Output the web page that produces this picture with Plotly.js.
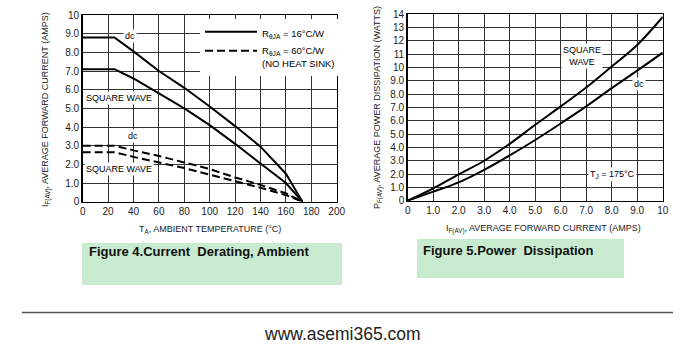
<!DOCTYPE html>
<html><head><meta charset="utf-8">
<script src="https://cdn.plot.ly/plotly-3.0.1.min.js"></script>
<style>body{margin:0;background:#fff}#c{width:700px;height:356px}</style>
</head><body><div id="c"></div>
<script>
// Figure 4 data: ambient temperature (°C) vs average forward current (A)
const tempA = [0, 25, 40, 60, 80, 100, 120, 140, 160, 173];
const dcHeatSink = [8.8, 8.8, 8.05, 7.0, 6.1, 5.1, 4.05, 2.95, 1.5, 0];
const sqHeatSink = [7.1, 7.1, 6.6, 5.8, 5.0, 4.1, 3.1, 2.05, 1.0, 0];
const dcNoSink = [3.0, 3.0, 2.75, 2.45, 2.1, 1.75, 1.3, 0.9, 0.45, 0];
const sqNoSink = [2.65, 2.65, 2.4, 2.1, 1.8, 1.45, 1.1, 0.75, 0.35, 0];
// Figure 5 data: average forward current (A) vs power dissipation (W)
const currentF = [0, 1, 2, 3, 4, 5, 6, 7, 8, 9, 10];
const pSquare = [0, 0.92, 1.98, 3.0, 4.27, 5.7, 7.08, 8.5, 10.08, 11.7, 13.8];
const pDc = [0, 0.68, 1.38, 2.32, 3.4, 4.56, 5.8, 7.08, 8.45, 9.77, 11.12];
// tick labels
const xTicks4 = [0, 20, 40, 60, 80, 100, 120, 140, 160, 180, 200];
const yTicks4 = [0,1,2,3,4,5,6,7,8,9,10];
const yText4 = ["0","1.0","2.0","3.0","4.0","5.0","6.0","7.0","8.0","9.0","10"];
const xTicks5 = [0,1,2,3,4,5,6,7,8,9,10];
const xText5 = ["0","1.0","2.0","3.0","4.0","5.0","6.0","7.0","8.0","9.0","10"];
const yTicks5 = [0,1,2,3,4,5,6,7,8,9,10,11,12,13,14];
const yText5 = ["0","1.0","2.0","3.0","4.0","5.0","6.0","7.0","8.0","9.0","10","11","12","13","14"];

const F = "Liberation Sans, Arial, sans-serif";
const W = 700, H = 356;
const px = v => v / W, py = v => (H - v) / H;

const traces = [
  {x: tempA, y: dcHeatSink, xaxis:'x', yaxis:'y', mode:'lines', line:{color:'#000', width:2}, name:'R<sub>θJA</sub> = 16°C/W', legendgroup:'a'},
  {x: tempA, y: sqHeatSink, xaxis:'x', yaxis:'y', mode:'lines', line:{color:'#000', width:2}, showlegend:false, legendgroup:'a'},
  {x: tempA, y: dcNoSink, xaxis:'x', yaxis:'y', mode:'lines', line:{color:'#000', width:2, dash:'8px,4px'}, name:'R<sub>θJA</sub> = 60°C/W<br>(NO HEAT SINK)', legendgroup:'b'},
  {x: tempA, y: sqNoSink, xaxis:'x', yaxis:'y', mode:'lines', line:{color:'#000', width:2, dash:'8px,4px'}, showlegend:false, legendgroup:'b'},
  {x: currentF, y: pSquare, xaxis:'x2', yaxis:'y2', mode:'lines', line:{color:'#000', width:2, shape:'spline'}, showlegend:false},
  {x: currentF, y: pDc, xaxis:'x2', yaxis:'y2', mode:'lines', line:{color:'#000', width:2, shape:'spline'}, showlegend:false}
];

const axCommon = {showline:true, linecolor:'#000', linewidth:1.5, mirror:true, showgrid:true, gridcolor:'#333', gridwidth:1, zeroline:false, ticks:'', tickfont:{family:F, size:10, color:'#222'}, fixedrange:true};

const ann = [];
const lf = {family:F, size:9, color:'#000'};
function lab(text, x, y, xr, yr, extra) {
  ann.push(Object.assign({text, x, y, xref:xr, yref:yr, xanchor:'center', yanchor:'middle', showarrow:false, bgcolor:'#fff', font:lf, borderpad:1}, extra||{}));
}
lab('dc', 37, 8.9, 'x', 'y');
lab('SQUARE WAVE', 28.6, 5.55, 'x', 'y');
lab('dc', 39.7, 3.52, 'x', 'y');
lab('SQUARE WAVE', 28.6, 1.75, 'x', 'y');
lab('SQUARE<br>WAVE', 6.84, 10.87, 'x2', 'y2');
lab('dc', 9.07, 8.77, 'x2', 'y2');
lab('T<sub>J</sub> = 175°C', 8.05, 2.0, 'x2', 'y2');
// axis titles and page texts (paper coords)
function ptxt(text, x, y, font, extra) {
  ann.push(Object.assign({text, x:px(x), y:py(y), xref:'paper', yref:'paper', xanchor:'center', yanchor:'middle', showarrow:false, font}, extra||{}));
}
const tf = {family:F, size:9, color:'#222'};
ptxt('I<sub>F(AV)</sub>, AVERAGE FORWARD CURRENT (AMPS)', 46, 110, tf, {textangle:-90});
ptxt('T<sub>A</sub>, AMBIENT TEMPERATURE (°C)', 210, 229, tf);
ptxt('P<sub>F(AV)</sub>, AVERAGE POWER DISSIPATION (WATTS)', 378, 108, tf, {textangle:-90});
ptxt('I<sub>F(AV)</sub>, AVERAGE FORWARD CURRENT (AMPS)', 543, 229, tf);
const cf = {family:'Liberation Sans, Arial, sans-serif', size:13, color:'#111'};
ptxt('<b>Figure 4.Current  Derating, Ambient</b>', 87, 252, cf, {xanchor:'left'});
ptxt('<b>Figure 5.Power  Dissipation</b>', 421, 250, cf, {xanchor:'left'});
ptxt('www.asemi365.com', 342, 334, {family:'Liberation Sans, Arial, sans-serif', size:17.5, color:'#222'});

const shapes = [
  {type:'rect', xref:'paper', yref:'paper', x0:px(82), x1:px(342), y0:py(285), y1:py(243), fillcolor:'#c8ebcf', line:{width:0}, layer:'below'},
  {type:'rect', xref:'paper', yref:'paper', x0:px(417), x1:px(624), y0:py(278), y1:py(239), fillcolor:'#c8ebcf', line:{width:0}, layer:'below'},
  {type:'line', xref:'paper', yref:'paper', x0:px(22), x1:px(673), y0:py(312.5), y1:py(312.5), line:{color:'#555', width:1.5}}
];

const layout = {
  width:W, height:H, margin:{l:0,r:0,t:0,b:0}, paper_bgcolor:'#fff', plot_bgcolor:'#fff',
  showlegend:true,
  legend:{x:px(200), y:py(19), xanchor:'left', yanchor:'top', bgcolor:'#fff', borderwidth:0, font:{family:F, size:9.5, color:'#000'}, itemwidth:52, valign:'top', tracegroupgap:0, itemclick:false},
  xaxis: Object.assign({}, axCommon, {domain:[px(82.7), px(336.7)], range:[0,200], tickvals:xTicks4, ticktext:xTicks4.map(String), anchor:'y'}),
  yaxis: Object.assign({}, axCommon, {domain:[py(201.7), py(15)], range:[0,10], tickvals:yTicks4, ticktext:yText4, anchor:'x'}),
  xaxis2: Object.assign({}, axCommon, {domain:[px(407.7), px(662.7)], range:[0,10], tickvals:xTicks5, ticktext:xText5, anchor:'y2'}),
  yaxis2: Object.assign({}, axCommon, {domain:[py(200.7), py(14.3)], range:[0,14], tickvals:yTicks5, ticktext:yText5, anchor:'x2'}),
  annotations: ann, shapes: shapes
};
Plotly.newPlot('c', traces, layout, {displayModeBar:false, staticPlot:true});
</script></body></html>
